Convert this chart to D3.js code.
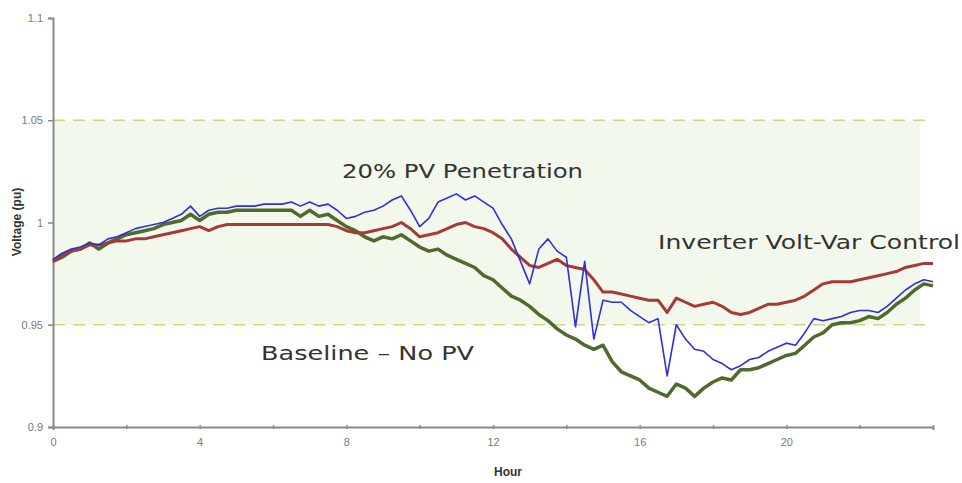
<!DOCTYPE html>
<html lang="en">
	<head>
		<meta charset="utf-8">
		<title>Voltage profile</title>
		<script src="https://d3js.org/d3.v7.min.js"></script>
		<style type="text/css">
			body {
				margin: 0;
				background: #fff;
			}
			.axis path,
			.axis line {
				fill: none;
				stroke: #8a8a8a;
				stroke-width: 1.5;
			}
			.axis text {
				font-family: "Liberation Sans", Arial, sans-serif;
				font-size: 11px;
				fill: #7a7a7a;
			}
			.note {
				font-family: "DejaVu Sans", "Open Sans", sans-serif;
				font-size: 19px;
				fill: #333;
			}
			.title {
				font-family: "Liberation Sans", Arial, sans-serif;
				font-size: 12px;
				font-weight: bold;
				fill: #333;
			}
		</style>
	</head>
	<body>
		<script type="text/javascript">
			//Width and height
			var w = 962;
			var h = 483;

			//Hours, one sample every 15 minutes
			var hours = d3.range(0, 97).map(function(i) { return i * 0.25; });

			//Baseline - No PV
			var baseline = [
				0.981, 0.983, 0.986, 0.987, 0.990, 0.987, 0.990, 0.992, 0.994, 0.995,
				0.996, 0.997, 0.999, 1.000, 1.001, 1.004, 1.001, 1.004, 1.005, 1.005,
				1.006, 1.006, 1.006, 1.006, 1.006, 1.006, 1.006, 1.003, 1.006, 1.003,
				1.004, 1.001, 0.998, 0.996, 0.993, 0.991, 0.993, 0.992, 0.994, 0.991,
				0.988, 0.986, 0.987, 0.984, 0.982, 0.980, 0.978, 0.974, 0.972, 0.968,
				0.964, 0.962, 0.959, 0.955, 0.952, 0.948, 0.945, 0.943, 0.940, 0.938,
				0.940, 0.932, 0.927, 0.925, 0.923, 0.919, 0.917, 0.915, 0.921, 0.919,
				0.915, 0.919, 0.922, 0.924, 0.923, 0.928, 0.928, 0.929, 0.931, 0.933,
				0.935, 0.936, 0.940, 0.944, 0.946, 0.950, 0.951, 0.951, 0.952, 0.954,
				0.953, 0.956, 0.960, 0.963, 0.967, 0.970, 0.969
			];

			//Inverter Volt-Var Control
			var voltVar = [
				0.981, 0.984, 0.986, 0.987, 0.989, 0.989, 0.990, 0.991, 0.991, 0.992,
				0.992, 0.993, 0.994, 0.995, 0.996, 0.997, 0.998, 0.996, 0.998, 0.999,
				0.999, 0.999, 0.999, 0.999, 0.999, 0.999, 0.999, 0.999, 0.999, 0.999,
				0.999, 0.998, 0.996, 0.995, 0.995, 0.996, 0.997, 0.998, 1.000, 0.997,
				0.993, 0.994, 0.995, 0.997, 0.999, 1.000, 0.998, 0.997, 0.995, 0.992,
				0.987, 0.983, 0.979, 0.978, 0.980, 0.982, 0.979, 0.978, 0.977, 0.972,
				0.966, 0.966, 0.965, 0.964, 0.963, 0.962, 0.962, 0.956, 0.963, 0.961,
				0.959, 0.960, 0.961, 0.959, 0.956, 0.955, 0.956, 0.958, 0.960, 0.960,
				0.961, 0.962, 0.964, 0.967, 0.970, 0.971, 0.971, 0.971, 0.972, 0.973,
				0.974, 0.975, 0.976, 0.978, 0.979, 0.980, 0.980
			];

			//20% PV Penetration
			var pv20 = [
				0.982, 0.985, 0.987, 0.988, 0.990, 0.989, 0.992, 0.993, 0.995, 0.997,
				0.998, 0.999, 1.000, 1.002, 1.004, 1.008, 1.003, 1.006, 1.007, 1.007,
				1.008, 1.008, 1.008, 1.009, 1.009, 1.009, 1.010, 1.008, 1.010, 1.008,
				1.009, 1.006, 1.002, 1.003, 1.005, 1.006, 1.008, 1.011, 1.013, 1.006,
				0.998, 1.002, 1.010, 1.012, 1.014, 1.011, 1.013, 1.010, 1.007, 0.999,
				0.992, 0.981, 0.970, 0.987, 0.992, 0.986, 0.983, 0.949, 0.981, 0.943,
				0.962, 0.961, 0.961, 0.957, 0.954, 0.951, 0.953, 0.925, 0.950, 0.943,
				0.938, 0.937, 0.933, 0.931, 0.928, 0.930, 0.933, 0.934, 0.937, 0.939,
				0.941, 0.940, 0.946, 0.953, 0.952, 0.953, 0.954, 0.956, 0.957, 0.957,
				0.956, 0.959, 0.963, 0.967, 0.970, 0.972, 0.971
			];

			//Axis ticks and limits band
			var yTicks = [0.9, 0.95, 1, 1.05, 1.1];
			var xTicks = [0, 2, 4, 6, 8, 10, 12, 14, 16, 18, 20, 22, 24];
			var xLabels = [0, 4, 8, 12, 16, 20];
			var band = [0.95, 1.05];

			var xScale = d3.scaleLinear().domain([0, 24]).range([53, 933]);
			var yScale = d3.scaleLinear().domain([0.9, 1.1]).range([427, 18]);

			var svg = d3.select("body")
						.append("svg")
						.attr("width", w)
						.attr("height", h);

			//Acceptable range band
			svg.append("rect")
				.attr("x", xScale(0))
				.attr("y", yScale(band[1]))
				.attr("width", xScale(23.65) - xScale(0))
				.attr("height", yScale(band[0]) - yScale(band[1]))
				.style("fill", "#f3f8ec");

			svg.selectAll(".limit")
				.data(band)
				.enter()
				.append("line")
				.attr("class", "limit")
				.attr("x1", xScale(0))
				.attr("x2", xScale(24))
				.attr("y1", function(d) { return yScale(d); })
				.attr("y2", function(d) { return yScale(d); })
				.style("stroke", "#c9d77f")
				.style("stroke-width", 1.5)
				.style("stroke-dasharray", "12,8");

			//X axis
			var xAxis = d3.axisBottom(xScale)
				.tickValues(xTicks)
				.tickSize(3)
				.tickPadding(8)
				.tickFormat(function(d) { return xLabels.indexOf(d) >= 0 ? d : ""; });
			var gx = svg.append("g")
				.attr("class", "x axis")
				.attr("transform", "translate(0," + yScale(0.9) + ")")
				.call(xAxis);
			//small cross ticks
			gx.selectAll(".tick line").attr("y1", -2).attr("y2", 2);

			//Y axis
			var yAxis = d3.axisLeft(yScale)
				.tickValues(yTicks)
				.tickSize(5)
				.tickPadding(5)
				.tickFormat(function(d) { return String(+d.toFixed(2)); });
			svg.append("g")
				.attr("class", "y axis")
				.attr("transform", "translate(" + xScale(0) + ",0)")
				.call(yAxis);
			svg.selectAll(".axis .domain").style("stroke-width", 2);

			//Lines
			var line = d3.line()
				.x(function(d, i) { return xScale(hours[i]); })
				.y(function(d) { return yScale(d); });

			var series = [
				{ values: baseline, color: "#4f6a2c", width: 3.5 },
				{ values: voltVar, color: "#a63a38", width: 3 },
				{ values: pv20, color: "#2d2fd8", width: 1.6 }
			];

			svg.selectAll(".series")
				.data(series)
				.enter()
				.append("path")
				.attr("class", "series")
				.attr("d", function(d) { return line(d.values); })
				.style("fill", "none")
				.style("stroke", function(d) { return d.color; })
				.style("stroke-width", function(d) { return d.width; })
				.style("stroke-linejoin", "round");

			//Annotations
			var notes = [
				{ text: "20% PV Penetration", x: 342, y: 178, len: 241 },
				{ text: "Inverter Volt-Var Control", x: 658, y: 249, len: 302 },
				{ text: "Baseline \u2013 No PV", x: 261, y: 360, len: 213 }
			];
			svg.selectAll(".note")
				.data(notes)
				.enter()
				.append("text")
				.attr("class", "note")
				.attr("x", function(d) { return d.x; })
				.attr("y", function(d) { return d.y; })
				.attr("textLength", function(d) { return d.len; })
				.attr("lengthAdjust", "spacingAndGlyphs")
				.text(function(d) { return d.text; });

			//Axis titles
			svg.append("text").attr("class", "title")
				.attr("x", 508).attr("y", 476)
				.attr("text-anchor", "middle")
				.text("Hour");
			svg.append("text").attr("class", "title")
				.attr("transform", "translate(21,222) rotate(-90)")
				.attr("text-anchor", "middle")
				.text("Voltage (pu)");
		</script>
	</body>
</html>
